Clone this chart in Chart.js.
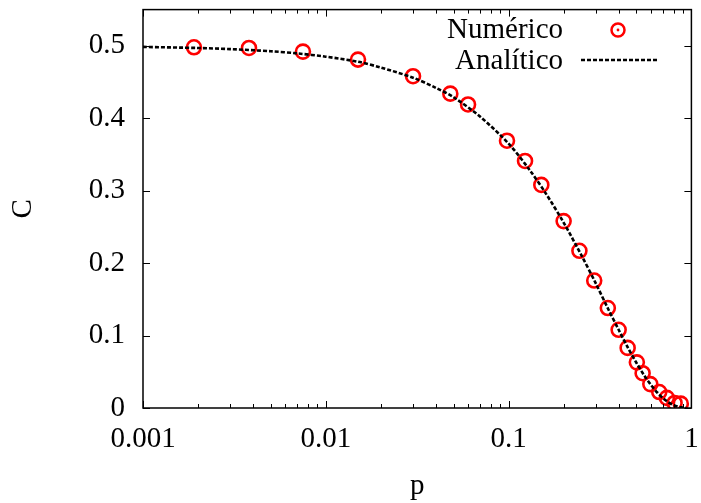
<!DOCTYPE html>
<html>
<head>
<meta charset="utf-8">
<script src="https://cdn.jsdelivr.net/npm/chart.js@4/dist/chart.umd.min.js"></script>
<style>
html, body { margin: 0; padding: 0; background: #fff; }
canvas { display: block; }
</style>
</head>
<body>
<canvas id="chart" width="701" height="503"></canvas>
<script>
// numerical points
var numP = [0.0019, 0.0038, 0.0075, 0.015, 0.030, 0.048, 0.060, 0.098, 0.123, 0.151, 0.200, 0.244, 0.294, 0.349, 0.400, 0.448, 0.503, 0.541, 0.596, 0.667, 0.734, 0.809, 0.875];
var numC = [0.498, 0.497, 0.492, 0.481, 0.458, 0.434, 0.419, 0.369, 0.341, 0.308, 0.258, 0.217, 0.176, 0.138, 0.108, 0.083, 0.063, 0.048, 0.033, 0.022, 0.014, 0.007, 0.006];

// analytic curve
var anaP = [0.001, 0.002, 0.003, 0.005, 0.007, 0.01, 0.015, 0.02, 0.03, 0.04, 0.05, 0.07, 0.1, 0.13, 0.16, 0.2, 0.25, 0.3, 0.35, 0.4, 0.45, 0.5, 0.55, 0.6, 0.65, 0.7, 0.75, 0.8, 0.85, 0.9, 0.94];
var anaC = [0.4985, 0.497, 0.4955, 0.4925, 0.4895, 0.485, 0.478, 0.470, 0.456, 0.442, 0.429, 0.402, 0.365, 0.329, 0.296, 0.256, 0.211, 0.172, 0.137, 0.108, 0.083, 0.0625, 0.0456, 0.032, 0.0214, 0.0135, 0.0078, 0.004, 0.0017, 0.0005, 0.0001];

var xTicks = [0.001, 0.01, 0.1, 1];
var xTickLabels = ["0.001", "0.01", "0.1", "1"];
var yTicks = [0, 0.1, 0.2, 0.3, 0.4, 0.5];
var yTickLabels = ["0", "0.1", "0.2", "0.3", "0.4", "0.5"];

var seriesNames = ["Numérico", "Analítico"];

var FONT = "Liberation Serif";

function toPoints(xs, ys) {
    return xs.map(function (x, i) { return {x: x, y: ys[i]}; });
}

function noPad(s) {
    s.paddingTop = 0; s.paddingBottom = 0;
    s.paddingLeft = 0; s.paddingRight = 0;
}

// inward ticks, frame and legend, gnuplot style
var framePlugin = {
    id: "frame",
    afterDatasetsDraw: function (chart) {
        var ctx = chart.ctx;
        var a = chart.chartArea;
        var xs = chart.scales.x;
        var ys = chart.scales.y;
        ctx.save();
        ctx.strokeStyle = "#000";
        ctx.lineWidth = 1;
        ctx.beginPath();
        for (let d = 0.001; d < 1.5; d *= 10) {
            for (let k = 1; k <= 9; k++) {
                var v = d * k;
                if (v > 1.0001) break;
                var px = Math.round(xs.getPixelForValue(v)) + 0.5;
                var len = k === 1 ? 7 : 4;
                ctx.moveTo(px, a.bottom);
                ctx.lineTo(px, a.bottom - len);
                ctx.moveTo(px, a.top);
                ctx.lineTo(px, a.top + len);
            }
        }
        yTicks.forEach(function (v) {
            var py = Math.round(ys.getPixelForValue(v)) + 0.5;
            ctx.moveTo(a.left, py);
            ctx.lineTo(a.left + 7, py);
            ctx.moveTo(a.right, py);
            ctx.lineTo(a.right - 7, py);
        });
        ctx.stroke();

        ctx.lineWidth = 1.5;
        ctx.strokeRect(a.left, a.top, a.right - a.left, a.bottom - a.top);

        // legend
        ctx.font = "29px '" + FONT + "'";
        ctx.fillStyle = "#000";
        ctx.textAlign = "right";
        ctx.textBaseline = "middle";
        ctx.fillText(seriesNames[0], 563, 30);
        ctx.fillText(seriesNames[1], 563, 61);

        ctx.strokeStyle = "#ff0000";
        ctx.lineWidth = 2.5;
        ctx.beginPath();
        ctx.arc(618, 30, 6.5, 0, Math.PI * 2);
        ctx.stroke();
        ctx.fillStyle = "#ff0000";
        ctx.beginPath();
        ctx.arc(618, 30, 1.4, 0, Math.PI * 2);
        ctx.fill();

        ctx.strokeStyle = "#000";
        ctx.lineWidth = 2.6;
        ctx.setLineDash([4, 2]);
        ctx.beginPath();
        ctx.moveTo(581, 60);
        ctx.lineTo(658, 60);
        ctx.stroke();
        ctx.restore();
    }
};

var chart = new Chart(document.getElementById("chart"), {
    type: "scatter",
    data: {
        datasets: [
            {
                label: seriesNames[1],
                data: toPoints(anaP, anaC),
                showLine: true,
                borderColor: "#000",
                borderWidth: 2.6,
                borderDash: [4, 2],
                pointRadius: 0,
                tension: 0.3,
                order: 1
            },
            {
                label: seriesNames[0],
                data: toPoints(numP, numC),
                showLine: false,
                pointStyle: "circle",
                pointRadius: 7,
                pointBorderWidth: 2.6,
                borderColor: "#ff0000",
                backgroundColor: "rgba(0,0,0,0)",
                order: 2
            }
        ]
    },
    options: {
        responsive: false,
        animation: false,
        layout: { padding: { top: 8, right: 8, left: 0, bottom: 0 } },
        scales: {
            x: {
                type: "logarithmic",
                min: 0.001,
                max: 1,
                afterBuildTicks: function (s) { s.ticks = xTicks.map(function (v) { return {value: v}; }); },
                afterFit: function (s) { s.height = 95; noPad(s); },
                grid: { display: false, drawTicks: false },
                border: { display: false },
                ticks: {
                    autoSkip: false,
                    maxRotation: 0,
                    padding: 14,
                    color: "#000",
                    font: { family: FONT, size: 29 },
                    callback: function (v) { var i = xTicks.indexOf(v); return i >= 0 ? xTickLabels[i] : ""; }
                },
                title: {
                    display: true,
                    text: "p",
                    color: "#000",
                    font: { family: FONT, size: 29, lineHeight: 1 },
                    padding: { top: 0, bottom: 2 }
                }
            },
            y: {
                min: 0,
                max: 0.55,
                afterBuildTicks: function (s) { s.ticks = yTicks.map(function (v) { return {value: v}; }); },
                afterFit: function (s) { s.width = 143; noPad(s); },
                grid: { display: false, drawTicks: false },
                border: { display: false },
                ticks: {
                    padding: 18,
                    color: "#000",
                    font: { family: FONT, size: 29 },
                    callback: function (v) { var i = yTicks.indexOf(v); return i >= 0 ? yTickLabels[i] : ""; }
                },
                title: {
                    display: true,
                    text: "C",
                    color: "#000",
                    font: { family: FONT, size: 29, lineHeight: 1 },
                    padding: { top: 9, bottom: 0 }
                }
            }
        },
        plugins: {
            legend: { display: false },
            tooltip: { enabled: false }
        }
    },
    plugins: [framePlugin]
});
</script>
</body>
</html>
